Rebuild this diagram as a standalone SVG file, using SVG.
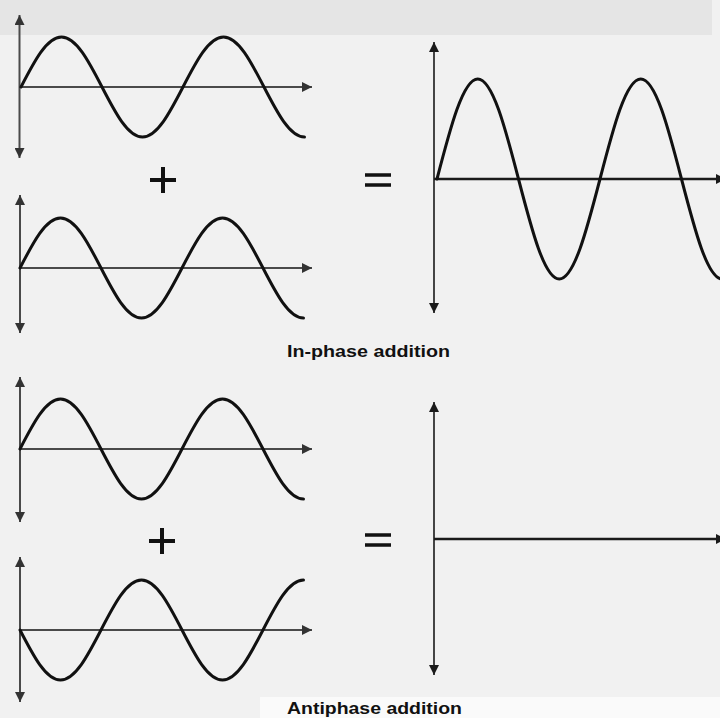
<svg xmlns="http://www.w3.org/2000/svg" width="720" height="718" viewBox="0 0 720 718">
<style>
.ax{stroke:#4a4a4a;stroke-width:2;fill:none}
.axr{stroke:#1a1a1a;stroke-width:1.6;fill:none}
.axh{stroke:#1a1a1a;stroke-width:2.6;fill:none}
.wave{stroke:#111;stroke-width:3;fill:none;stroke-linecap:round}
.sign{stroke:#111;stroke-width:4;fill:none}
.lbl{font-family:"Liberation Sans",Arial,sans-serif;font-weight:bold;font-size:17px;fill:#111}
</style>
<defs>
<marker id="ah" viewBox="0 0 10 10" refX="10" refY="5" markerWidth="11" markerHeight="10" markerUnits="userSpaceOnUse" orient="auto-start-reverse">
<path d="M0,0 L10,5 L0,10 z" fill="#1a1a1a"/>
</marker>
<marker id="ahg" viewBox="0 0 10 10" refX="10" refY="5" markerWidth="11" markerHeight="10" markerUnits="userSpaceOnUse" orient="auto-start-reverse">
<path d="M0,0 L10,5 L0,10 z" fill="#333"/>
</marker>
</defs>
<rect x="0" y="0" width="720" height="718" fill="#f1f1f1"/>
<rect x="0" y="0" width="712" height="35" fill="#e5e5e5"/>
<rect x="260" y="697" width="460" height="21" fill="#fafafa"/>

<g id="axes">
<path class="ax" d="M19.5,15 V158" marker-start="url(#ahg)" marker-end="url(#ahg)"/>
<path class="ax" d="M19.5,87 H312" marker-end="url(#ahg)"/>
<path class="ax" d="M20,195 V333" marker-start="url(#ahg)" marker-end="url(#ahg)"/>
<path class="ax" d="M20,268 H312" marker-end="url(#ahg)"/>
<path class="ax" d="M20,377 V522" marker-start="url(#ahg)" marker-end="url(#ahg)"/>
<path class="ax" d="M20,449 H312" marker-end="url(#ahg)"/>
<path class="ax" d="M20,557 V702" marker-start="url(#ahg)" marker-end="url(#ahg)"/>
<path class="ax" d="M20,630 H312" marker-end="url(#ahg)"/>
<path class="axr" d="M434,42 V313" marker-start="url(#ah)" marker-end="url(#ah)"/>
<path class="axh" d="M434,179 H726" marker-end="url(#ah)"/>
<path class="axr" d="M434,402 V675" marker-start="url(#ah)" marker-end="url(#ah)"/>
</g>

<g id="wave-inphase-1">
<path class="wave" d="M21,87 c13.2,-25.6 25.84,-50 40.5,-50 s27.3,24.4 40.5,50 s25.84,50 40.5,50 s27.3,-24.4 40.5,-50 s25.84,-50 40.5,-50 s27.3,24.4 40.5,50 s25.84,50 40.5,50"/>
</g>
<g id="wave-inphase-2">
<path class="wave" d="M20,268 c13.2,-25.6 25.84,-50 40.5,-50 s27.3,24.4 40.5,50 s25.84,50 40.5,50 s27.3,-24.4 40.5,-50 s25.84,-50 40.5,-50 s27.3,24.4 40.5,50 s25.84,50 40.5,50"/>
</g>
<g id="wave-inphase-sum">
<path class="wave" d="M437,179 c13.29,-51.23 26,-100 40.75,-100 s27.46,48.77 40.75,100 s26,100 40.75,100 s27.46,-48.77 40.75,-100 s26,-100 40.75,-100 s27.46,48.77 40.75,100 s26,100 40.75,100"/>
</g>
<g id="wave-anti-1">
<path class="wave" d="M20,449 c13.2,-25.6 25.84,-50 40.5,-50 s27.3,24.4 40.5,50 s25.84,50 40.5,50 s27.3,-24.4 40.5,-50 s25.84,-50 40.5,-50 s27.3,24.4 40.5,50 s25.84,50 40.5,50"/>
</g>
<g id="wave-anti-2">
<path class="wave" d="M20,630 c13.2,25.6 25.84,50 40.5,50 s27.3,-24.4 40.5,-50 s25.84,-50 40.5,-50 s27.3,24.4 40.5,50 s25.84,50 40.5,50 s27.3,-24.4 40.5,-50 s25.84,-50 40.5,-50"/>
</g>
<g id="wave-anti-sum">
<path class="axh" d="M434,539 H726" marker-end="url(#ah)"/>
</g>

<g id="plus-1"><path class="sign" d="M150,180 H176 M163,167 V193"/></g>
<g id="equals-1"><path class="sign" style="stroke-width:3.5" d="M365,175 H391 M365,185 H391"/></g>
<g id="plus-2"><path class="sign" d="M149,541 H175 M162,528 V554"/></g>
<g id="equals-2"><path class="sign" style="stroke-width:3.5" d="M365,535 H391 M365,545 H391"/></g>

<g id="label-inphase"><text class="lbl" x="287" y="357" textLength="163" lengthAdjust="spacingAndGlyphs">In-phase addition</text></g>
<g id="label-antiphase"><text class="lbl" x="287" y="714" textLength="175" lengthAdjust="spacingAndGlyphs">Antiphase addition</text></g>
</svg>
